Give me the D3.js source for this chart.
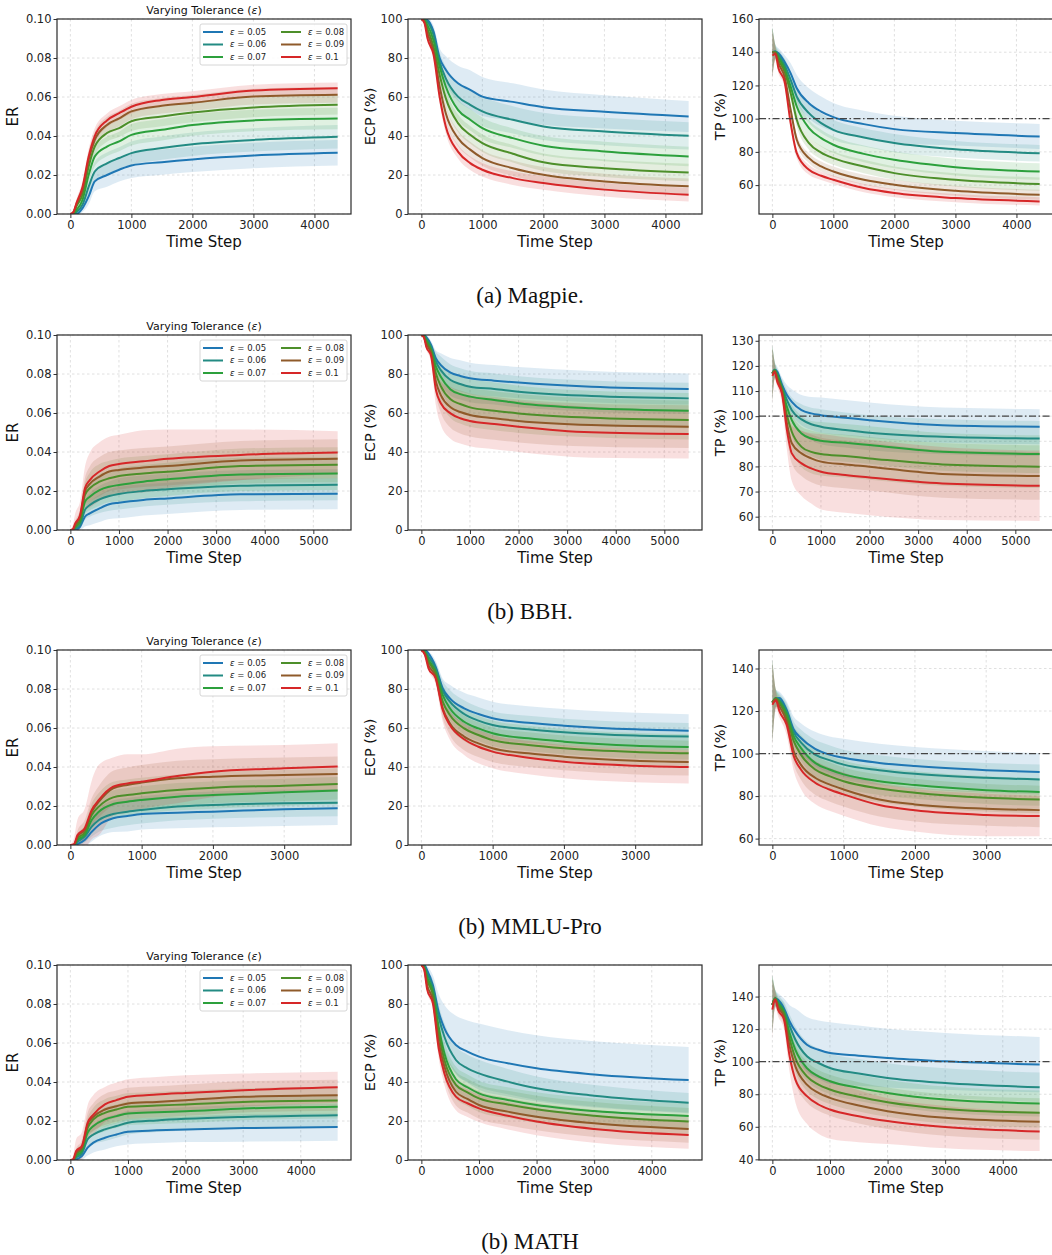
<!DOCTYPE html>
<html>
<head>
<meta charset="utf-8">
<script src="https://cdn.jsdelivr.net/npm/d3@7"></script>
<style>
  body { margin: 0; background: #fff; }
  svg { display: block; font-family: "DejaVu Sans", sans-serif; }
</style>
</head>
<body>
<svg id="chart" width="1052" height="1255"></svg>
<script>
// tolerance levels and their colours
const epsilons = ["0.05", "0.06", "0.07", "0.08", "0.09", "0.1"];
const colors = ["#1f77b4", "#238b83", "#2ca03c", "#4d8f2a", "#8f5a2a", "#d62728"];
const captions = ["(a) Magpie.", "(b) BBH.", "(b) MMLU-Pro", "(b) MATH"];

// time steps at which values were read (per dataset)
const stepsMagpie = [0, 50, 100, 200, 300, 400, 600, 800, 1000, 1500, 2000, 3000, 4380];
const stepsBBH    = [0, 50, 100, 200, 300, 400, 600, 800, 1000, 1500, 2000, 3500, 5500];
const stepsMMLU   = [0, 50, 100, 200, 300, 400, 600, 800, 1000, 1500, 2000, 3000, 3750];
const stepsMATH   = [0, 50, 100, 200, 300, 400, 600, 800, 1000, 1500, 2000, 3000, 4640];

// ---- Magpie ----
const magpieER = [
  [0, 0, 0, .003, .009, .0167, .020, .0227, .0249, .0266, .028, .030, .0314],
  [0, 0, .001, .0048, .014, .0218, .026, .0287, .0312, .0338, .0358, .038, .0396],
  [0, 0, .002, .0073, .020, .0295, .0346, .0372, .0406, .0432, .0456, .048, .049],
  [0, 0, .004, .010, .0244, .0346, .0415, .044, .0476, .050, .052, .0546, .056],
  [0, .001, .005, .0125, .028, .038, .0457, .049, .0526, .0555, .057, .0602, .0611],
  [0, .001, .0056, .014, .0295, .040, .048, .0517, .055, .0585, .060, .0633, .0645]
];
const magpieERsd = [
  [0, 0, .001, .002, .004, .005, .006, .006, .0065, .0065, .0065, .0065, .0065],
  [0, 0, .001, .002, .004, .005, .0055, .0055, .006, .006, .006, .006, .006],
  [0, 0, .001, .002, .004, .005, .005, .005, .0055, .0055, .0055, .0055, .0055],
  [0, 0, .001, .003, .004, .0045, .0045, .0045, .005, .005, .005, .005, .005],
  [0, .001, .002, .003, .004, .004, .004, .004, .004, .004, .004, .004, .004],
  [0, .001, .002, .003, .004, .004, .0035, .0035, .0035, .003, .003, .003, .003]
];
const magpieECP = [
  [100, 100, 99.5, 93.5, 80, 74, 67, 63.7, 60.2, 57.5, 54.8, 52.4, 50],
  [100, 100, 98.6, 91.8, 78, 69.6, 60.2, 56, 52.6, 48.3, 44.9, 42.3, 40.1],
  [100, 99.5, 97, 89, 75.6, 65.4, 53.4, 48.3, 44, 38.9, 35, 32.1, 29.5],
  [100, 99, 95, 85.8, 71.3, 59.4, 46.6, 40.6, 36.3, 30.9, 26.5, 23.5, 21.3],
  [100, 98.5, 92.7, 83.3, 65.4, 51.7, 38.9, 33, 28.7, 23.5, 20.1, 16.7, 14.2],
  [100, 98, 90.1, 81.6, 60, 44.9, 32, 26.1, 22.7, 18.4, 15.9, 12.5, 9.9]
];
const magpieECPsd = [
  [0, 0, 1, 3, 5, 7, 9, 10, 10, 9.5, 9, 8.5, 8],
  [0, 0, 1, 3, 5, 6, 7, 7.5, 7.5, 7, 7, 7, 7],
  [0, 0, 1, 3, 4, 5, 5.5, 5.5, 5.5, 5, 5, 5, 5],
  [0, 0, 1, 2, 4, 4.5, 4.5, 4.5, 4.5, 4.5, 4.5, 4.5, 4.5],
  [0, 0, 1, 2, 4, 4, 4, 4, 4, 4, 4, 4, 4],
  [0, 0, 1, 2, 3.5, 3.5, 3.5, 3.5, 3.5, 3.5, 3.5, 3.5, 3.5]
];
const magpieTP = [
  [140, 140.5, 139.4, 134.3, 127.3, 118.3, 109.3, 104.3, 100.9, 96.7, 93.7, 91.3, 89.3],
  [140, 140.5, 138.4, 132.3, 123.3, 113.3, 103.3, 97.3, 93.3, 88.7, 85.3, 81.6, 79.2],
  [140, 140, 137, 130.3, 119.3, 107.3, 94.3, 88.3, 84.3, 78.8, 75.2, 70.8, 68.2],
  [140, 140, 135.4, 128.3, 115.3, 99.3, 85.3, 79.6, 76.2, 71.2, 67.2, 63.2, 60.6],
  [140, 139.5, 133.4, 125.3, 105.3, 87.3, 76.2, 71.2, 68.2, 63.2, 60.2, 56.6, 54.2],
  [138, 139, 130.3, 122.3, 97.3, 79.2, 69.2, 65.6, 63.2, 58.2, 55.2, 52.2, 50.2]
];
const magpieTPsd = [
  [15, 4, 3, 4, 6, 8, 9, 9, 8.5, 8, 8, 7.5, 7.5],
  [15, 4, 3, 4, 5, 6, 6, 6, 6, 5.5, 5.5, 5, 5],
  [15, 4, 3, 3, 4, 5, 5, 5, 5, 5, 5, 5, 5],
  [15, 4, 3, 3, 4, 4, 4, 4, 4, 4, 4, 4, 4],
  [15, 4, 3, 3, 3, 3, 3, 3, 3, 3, 3, 3, 3],
  [15, 4, 3, 3, 3, 3, 3, 2.5, 2.5, 2.5, 2.5, 2.5, 2.5]
];

// ---- BBH ----
const bbhER = [
  [0, 0, 0, .0017, .0068, .0085, .0111, .0132, .014, .0154, .0162, .0183, .0186],
  [0, 0, .0007, .0026, .0103, .0128, .0157, .0174, .0185, .020, .0209, .0227, .0232],
  [0, 0, .0014, .0043, .0145, .0171, .0205, .0222, .0231, .0248, .026, .0285, .029],
  [0, 0, .0017, .0051, .018, .0214, .0248, .0265, .0277, .029, .0299, .0328, .0335],
  [0, 0, .0026, .0068, .0197, .0236, .0274, .030, .0308, .032, .0328, .0356, .0366],
  [0, .0005, .0034, .0077, .0214, .0256, .030, .0328, .0338, .0352, .0365, .0385, .0397]
];
const bbhERsd = [
  [0, 0, .001, .002, .005, .006, .007, .0075, .008, .008, .008, .008, .008],
  [0, 0, .001, .002, .005, .006, .007, .0075, .008, .008, .008, .008, .008],
  [0, 0, .001, .003, .006, .007, .008, .008, .0085, .0085, .0085, .0085, .0085],
  [0, 0, .002, .003, .006, .008, .009, .009, .009, .009, .009, .009, .009],
  [0, 0, .002, .004, .007, .009, .010, .010, .010, .010, .010, .010, .010],
  [0, .002, .005, .007, .011, .014, .015, .015, .015, .016, .015, .013, .011]
];
const bbhECP = [
  [100, 100, 99, 94.9, 88, 84.6, 80.7, 79, 77.8, 76.6, 75.6, 73.5, 72.3],
  [100, 100, 98.3, 94, 86.3, 82, 76.9, 74.9, 73.5, 72.3, 70.9, 68.7, 67.5],
  [100, 99.5, 97.4, 92.6, 83.8, 78.6, 72.1, 69.7, 68.4, 66.7, 65, 62.4, 61.2],
  [100, 99.5, 96.6, 91.5, 80.3, 73.8, 67, 64.6, 62.9, 61.2, 59.8, 57.6, 56.4],
  [100, 99, 95.4, 90.6, 76.1, 69.2, 62.9, 60.5, 59, 57.3, 55.9, 53.8, 53],
  [100, 99, 94, 89.2, 71.8, 65, 59.8, 57.3, 55.9, 54.4, 53, 50.1, 49.2]
];
const bbhECPsd = [
  [0, 0, 1, 2, 4, 6, 7.5, 8, 8, 8, 8, 8, 8],
  [0, 0, 1, 2, 5, 7, 8, 8, 8, 8, 8, 8, 8],
  [0, 0, 1, 2, 5, 7, 8.5, 9, 9, 9, 9, 9, 9],
  [0, 0, 1, 3, 6, 8, 9.5, 10, 10, 10, 10, 10, 10],
  [0, 0, 1, 3, 7, 9, 10.5, 11, 11, 11, 11, 11, 11],
  [0, 0, 1, 3, 8, 11, 13, 13, 13, 13, 13, 13, 12.5]
];
const bbhTP = [
  [117, 118.5, 117.7, 112.4, 108.4, 105.7, 102.4, 101.1, 100.4, 99.4, 98.4, 96.4, 95.8],
  [117, 118.5, 117, 111.7, 106.4, 102.4, 98.7, 96.8, 95.8, 94.5, 93.4, 91.8, 91.1],
  [117, 118.3, 116.4, 111, 103.7, 98.4, 93.1, 91.1, 90.2, 89.4, 88.5, 85.8, 84.9],
  [117, 118.2, 115.7, 110.4, 100.4, 93.8, 87.8, 85.8, 84.9, 84.1, 83.2, 80.8, 79.9],
  [117, 118, 115, 109.7, 97.1, 89.2, 85.2, 83.2, 81.9, 80.8, 79.9, 77, 76.2],
  [116, 117.5, 113.7, 108.8, 94.5, 85.2, 81.2, 79.2, 77.9, 76.6, 75.6, 73.2, 72.3]
];
const bbhTPsd = [
  [11, 3, 2, 3, 4, 5, 6, 6.5, 7, 7, 7, 7, 7],
  [11, 3, 2, 3, 4, 5, 6, 6.5, 7, 7, 7, 7, 7],
  [11, 3, 2, 3, 4, 6, 7, 7, 7.5, 7.5, 7.5, 7.5, 7.5],
  [11, 3, 2, 3, 5, 7, 8, 8.5, 8.5, 8.5, 8.5, 8.5, 8.5],
  [11, 3, 2, 3, 6, 8, 9, 9.5, 9.5, 9.5, 9.5, 9.5, 9.5],
  [11, 3, 2, 4, 8, 11, 13, 14, 15, 15, 15, 14.5, 14]
];

// ---- MMLU-Pro ----
const mmluER = [
  [0, 0, .0005, .0026, .0068, .0103, .0137, .0149, .0159, .0166, .0171, .0183, .0188],
  [0, 0, .0017, .0043, .0094, .0128, .0159, .0171, .018, .0197, .0205, .0214, .0217],
  [0, 0, .0026, .0051, .0128, .0171, .021, .0222, .0231, .0248, .0256, .027, .0279],
  [0, 0, .0034, .0063, .0154, .0197, .0244, .0256, .0265, .0282, .0294, .0304, .0313],
  [0, 0, .0043, .0077, .0171, .0222, .0291, .0308, .032, .0342, .035, .0359, .0364],
  [0, .0005, .0051, .0085, .018, .0231, .0299, .0316, .0325, .0354, .0376, .0393, .0402]
];
const mmluERsd = [
  [0, 0, .001, .003, .005, .006, .007, .008, .008, .008, .008, .0085, .0085],
  [0, 0, .002, .003, .005, .006, .007, .007, .007, .007, .007, .007, .007],
  [0, 0, .002, .003, .005, .006, .007, .007, .007, .007, .007, .007, .007],
  [0, 0, .002, .004, .006, .007, .008, .008, .008, .008, .008, .008, .008],
  [0, 0, .003, .005, .007, .008, .009, .009, .009, .009, .009, .009, .009],
  [0, .003, .008, .010, .015, .018, .015, .015, .014, .014, .013, .012, .012]
];
const mmluECP = [
  [100, 100, 98.3, 91.5, 80.3, 75.2, 70.1, 67.2, 65, 62.7, 61.2, 59.3, 58.6],
  [100, 99.5, 96.6, 90.6, 79.1, 73.5, 67.2, 63.8, 61.5, 59.3, 57.8, 56.1, 55.6],
  [100, 99, 95.2, 88.9, 76.9, 70.1, 63.2, 59.8, 57.3, 54.7, 53, 50.9, 50.3],
  [100, 98.5, 94, 88, 73.5, 66.7, 59.8, 56.4, 53.8, 51.3, 49.6, 47.7, 47],
  [100, 98, 92.3, 86.3, 70.1, 62.4, 55.6, 52.1, 49.6, 47, 45.3, 43.2, 42.6],
  [100, 97.5, 90.6, 85.5, 69.2, 61.5, 54.2, 50.4, 47.9, 44.8, 42.7, 40.7, 40]
];
const mmluECPsd = [
  [0, 0, 1, 3, 5, 7, 8, 8.5, 8.5, 8.5, 8.5, 8.5, 8.5],
  [0, 0, 1, 3, 5, 6, 7, 7, 7, 7, 7, 7, 7],
  [0, 0, 1, 3, 5, 6, 6.5, 6.5, 6.5, 6.5, 6.5, 6.5, 6.5],
  [0, 0, 1, 3, 5, 6, 6.5, 6.5, 6.5, 6.5, 6.5, 6.5, 6.5],
  [0, 0, 1, 3, 5, 6, 7, 7, 7, 7, 7, 7, 7],
  [0, 0, 1, 3, 6, 7.5, 8, 8.5, 8.5, 8.5, 8.5, 8.5, 8.5]
];
const mmluTP = [
  [124, 126, 126.1, 120.6, 111.3, 107.3, 102.2, 99.5, 98, 95.6, 94.1, 92.2, 91.3],
  [124, 126, 125.3, 119.8, 110, 105.3, 99.5, 96.9, 94.8, 92.2, 90.5, 88.6, 87.8],
  [124, 126, 124.5, 118.8, 108.1, 102.7, 95.6, 92.5, 90.2, 87, 85.2, 82.8, 81.9],
  [124, 126, 123.8, 117.2, 105.8, 99.5, 92.5, 89.4, 87, 83.6, 81.6, 79.2, 78.4],
  [124, 125.5, 122.2, 115.2, 101.1, 94.8, 88.6, 85.5, 83.1, 78.4, 76.1, 74.1, 73.4],
  [123, 125, 119.8, 113.6, 98.8, 92.5, 86.3, 83.1, 80.8, 75.8, 73.3, 71.1, 70.6]
];
const mmluTPsd = [
  [20, 4, 3, 4, 6, 7, 8, 8.5, 9, 9, 9, 9, 9],
  [20, 4, 3, 4, 5, 6, 7, 7, 7, 7, 7, 7, 7],
  [20, 4, 3, 4, 5, 6, 6.5, 6.5, 6.5, 6.5, 6.5, 6.5, 6.5],
  [20, 4, 3, 4, 5, 6, 6.5, 6.5, 6.5, 6.5, 6.5, 6.5, 6.5],
  [20, 4, 3, 4, 6, 7, 8, 8, 8, 8, 8, 8, 8],
  [20, 4, 3, 5, 7, 9, 10, 10, 10, 10, 10, 10, 9.5]
];

// ---- MATH ----
const mathER = [
  [0, 0, .0003, .002, .0063, .0089, .0114, .0131, .0145, .0152, .0157, .0164, .0169],
  [0, 0, .0012, .0034, .0106, .0131, .0157, .0174, .0191, .0203, .0211, .0221, .023],
  [0, 0, .002, .0046, .014, .0174, .0208, .0225, .0239, .0245, .025, .0264, .0273],
  [0, 0, .0029, .0058, .0165, .0208, .0242, .0259, .0273, .0279, .0285, .0298, .0305],
  [0, 0, .0037, .0063, .0182, .0221, .0259, .0276, .029, .0298, .0307, .0324, .0332],
  [0, .0005, .0046, .0072, .0191, .0233, .0285, .0307, .0324, .0336, .0344, .0358, .0373]
];
const mathERsd = [
  [0, 0, .001, .002, .004, .005, .006, .006, .0065, .0065, .0065, .007, .007],
  [0, 0, .001, .002, .004, .005, .006, .006, .006, .006, .006, .006, .006],
  [0, 0, .001, .002, .004, .005, .006, .006, .006, .006, .006, .006, .006],
  [0, 0, .002, .003, .005, .006, .007, .007, .007, .007, .007, .007, .007],
  [0, 0, .002, .004, .006, .007, .008, .008, .008, .008, .008, .008, .008],
  [0, .002, .006, .007, .009, .010, .009, .009, .009, .009, .009, .0085, .008]
];
const mathECP = [
  [100, 100, 97.4, 89.7, 76, 67.5, 59, 55.6, 53, 49.6, 47, 43.9, 41],
  [100, 99.5, 95.7, 88.5, 73.5, 63.2, 51.3, 47, 44.4, 40.2, 36.8, 33, 29.4],
  [100, 99, 94, 86.3, 68.4, 54.7, 41.4, 37.3, 34.2, 30.8, 28.2, 25.1, 22.6],
  [100, 98.5, 92.3, 84.6, 65, 51.3, 38.5, 34.7, 31.6, 28.5, 26, 22.7, 19.7],
  [100, 98, 89.7, 82.1, 60.7, 47.9, 35, 31.3, 28.2, 24.8, 22.2, 18.8, 15.9],
  [100, 97.5, 87.5, 80.3, 57.3, 44.4, 32.5, 29.1, 26.5, 22.7, 19.7, 15.9, 12.8]
];
const mathECPsd = [
  [0, 0, 2, 5, 9, 12, 15, 16, 17, 17, 17, 17, 17],
  [0, 0, 1, 4, 6, 7, 7, 7, 7, 6.5, 6, 5.5, 5],
  [0, 0, 1, 3, 5, 6, 6.5, 6.5, 6.5, 6.5, 6.5, 6.5, 6.5],
  [0, 0, 1, 3, 5, 6, 7, 7, 7, 7, 7, 7, 7],
  [0, 0, 1, 3, 5, 6, 7, 7, 7, 7, 7, 7, 7],
  [0, 0, 1, 3, 5, 6, 7, 7, 7, 7, 7, 7, 7]
];
const mathTP = [
  [135, 139, 138, 132.9, 124.7, 118.6, 110.4, 107.3, 105.3, 103.7, 102.2, 100.2, 98.2],
  [135, 139, 136.9, 131.8, 122, 113.5, 103.3, 99.2, 96.1, 92.7, 90, 86.9, 84.3],
  [135, 139, 135.9, 130.8, 117.6, 107.3, 96.1, 91, 88, 83.9, 80.8, 76.7, 74.3],
  [135, 139, 134.9, 129.4, 113.9, 102.2, 91, 85.9, 82.9, 78.4, 75.1, 71, 68.6],
  [135, 138.5, 133.5, 127.8, 109.4, 97.1, 85.9, 80.8, 77.8, 73.1, 69.6, 65.5, 63.1],
  [132, 138, 131.8, 126.1, 103.3, 89, 78.8, 73.7, 70.6, 66.5, 63.5, 59.8, 57.1]
];
const mathTPsd = [
  [18, 5, 4, 6, 10, 14, 17, 18, 19, 18.5, 18, 17.5, 17],
  [18, 5, 4, 5, 7, 8, 9, 9, 9, 9, 9, 9, 9],
  [18, 5, 4, 5, 7, 8, 8, 8, 8, 8, 8, 8, 8],
  [18, 5, 4, 5, 7, 8, 9, 9, 9, 9, 9, 9, 9],
  [18, 5, 4, 5, 8, 10, 11, 11, 11, 11, 11, 11, 11],
  [18, 5, 4, 6, 10, 14, 17, 18, 18, 16, 14, 13, 12]
];

// axis ranges / ticks for the TP panels
const tpDomains = [[42.6, 160], [54.7, 132.3], [57, 148.7], [39.6, 159.4]];
const tpTicks = [[60, 80, 100, 120, 140, 160], [60, 70, 80, 90, 100, 110, 120, 130], [60, 80, 100, 120, 140], [40, 60, 80, 100, 120, 140]];

const rows = [
  {steps: stepsMagpie, er: [magpieER, magpieERsd], ecp: [magpieECP, magpieECPsd], tp: [magpieTP, magpieTPsd]},
  {steps: stepsBBH, er: [bbhER, bbhERsd], ecp: [bbhECP, bbhECPsd], tp: [bbhTP, bbhTPsd]},
  {steps: stepsMMLU, er: [mmluER, mmluERsd], ecp: [mmluECP, mmluECPsd], tp: [mmluTP, mmluTPsd]},
  {steps: stepsMATH, er: [mathER, mathERsd], ecp: [mathECP, mathECPsd], tp: [mathTP, mathTPsd]}
];

const svg = d3.select("#chart");
const colX = [57, 408, 759];
const rowY = [19, 335, 650, 965];
const W = 294, H = 195;

function panel(r, c, spec) {
  const g = svg.append("g").attr("transform", `translate(${colX[c]},${rowY[r]})`);
  const steps = spec.steps;
  const N = steps[steps.length - 1];
  const x = d3.scaleLinear().domain([-0.05 * N, 1.05 * N]).range([0, W]);
  const y = d3.scaleLinear().domain(spec.domain).range([H, 0]);
  const xt = d3.range(0, 1.05 * N, 1000);

  // grid
  const grid = g.append("g").attr("stroke", "#d8d8d8").attr("stroke-width", 0.8).attr("stroke-dasharray", "2.5,2.5");
  grid.selectAll(".gx").data(xt).join("line").attr("x1", d => x(d)).attr("x2", d => x(d)).attr("y1", 0).attr("y2", H);
  grid.selectAll(".gy").data(spec.ticks).join("line").attr("y1", d => y(d)).attr("y2", d => y(d)).attr("x1", 0).attr("x2", W);

  const clipId = `clip-${r}-${c}`;
  g.append("clipPath").attr("id", clipId).append("rect").attr("width", W).attr("height", H);
  const plot = g.append("g").attr("clip-path", `url(#${clipId})`);

  const [means, sds] = spec.data;
  const area = d3.area().curve(d3.curveMonotoneX)
    .x(d => x(d.t)).y0(d => y(d.m - d.s)).y1(d => y(d.m + d.s));
  const line = d3.line().curve(d3.curveMonotoneX).x(d => x(d.t)).y(d => y(d.m));
  const series = means.map((m, i) => m.map((v, k) => ({t: steps[k], m: v, s: sds[i][k]})));

  plot.selectAll(".band").data(series).join("path")
    .attr("d", area).attr("fill", (d, i) => colors[i]).attr("fill-opacity", 0.15);
  plot.selectAll(".ln").data(series).join("path")
    .attr("d", line).attr("fill", "none").attr("stroke", (d, i) => colors[i]).attr("stroke-width", 2);

  if (spec.refLine) {
    g.append("line").attr("x1", 0).attr("x2", W).attr("y1", y(100)).attr("y2", y(100))
      .attr("stroke", "#444").attr("stroke-width", 1.2).attr("stroke-dasharray", "7,2.5,1.5,2.5");
  }

  // axes
  const ax = g.append("g").attr("transform", `translate(0,${H})`)
    .call(d3.axisBottom(x).tickValues(xt).tickSize(4).tickPadding(3).tickFormat(d3.format("d")));
  const ay = g.append("g")
    .call(d3.axisLeft(y).tickValues(spec.ticks).tickSize(3.5).tickPadding(2).tickFormat(spec.fmt));
  [ax, ay].forEach(a => {
    a.select(".domain").remove();
    a.selectAll("line").attr("stroke", "#333");
    a.selectAll("text").attr("font-size", 11.5).attr("fill", "#222").attr("font-family", "DejaVu Sans");
  });
  g.append("rect").attr("width", W).attr("height", H).attr("fill", "none")
    .attr("stroke", "#2a2a2a").attr("stroke-width", 1.2);

  g.append("text").attr("x", W / 2).attr("y", H + 33).attr("text-anchor", "middle")
    .attr("font-size", 15).attr("fill", "#111").text("Time Step");
  g.append("text").attr("transform", `translate(${spec.labelX},${H / 2}) rotate(-90)`)
    .attr("text-anchor", "middle").attr("dy", "0.35em")
    .attr("font-size", spec.labelSize).attr("fill", "#111").text(spec.label);

  if (spec.legend) {
    g.append("text").attr("x", W / 2).attr("y", -5).attr("text-anchor", "middle")
      .attr("font-size", 11).attr("fill", "#111")
      .call(t => { t.append("tspan").text("Varying Tolerance ("); t.append("tspan").attr("font-style", "italic").text("ε"); t.append("tspan").text(")"); });
    const lg = g.append("g").attr("transform", "translate(143,5)");
    lg.append("rect").attr("width", 147).attr("height", 41).attr("rx", 2)
      .attr("fill", "#fff").attr("fill-opacity", 0.85).attr("stroke", "#ccc").attr("stroke-width", 0.8);
    epsilons.forEach((e, i) => {
      const cx = i < 3 ? 3 : 81, cy = 8 + (i % 3) * 12.5;
      lg.append("line").attr("x1", cx).attr("x2", cx + 20).attr("y1", cy).attr("y2", cy)
        .attr("stroke", colors[i]).attr("stroke-width", 2);
      const t = lg.append("text").attr("x", cx + 27).attr("y", cy).attr("dy", "0.35em")
        .attr("font-size", 8.5).attr("fill", "#222");
      t.append("tspan").attr("font-style", "italic").text("ε");
      t.append("tspan").text(" = " + e);
    });
  }
}

rows.forEach((row, r) => {
  panel(r, 0, {steps: row.steps, data: row.er, domain: [0, 0.1], ticks: [0, .02, .04, .06, .08, .1],
    fmt: d3.format(".2f"), label: "ER", labelX: -44, labelSize: 15, legend: true});
  panel(r, 1, {steps: row.steps, data: row.ecp, domain: [0, 100], ticks: [0, 20, 40, 60, 80, 100],
    fmt: d3.format("d"), label: "ECP (%)", labelX: -38, labelSize: 14.5});
  panel(r, 2, {steps: row.steps, data: row.tp, domain: tpDomains[r], ticks: tpTicks[r],
    fmt: d3.format("d"), label: "TP (%)", labelX: -39, labelSize: 14.5, refLine: true});
  svg.append("text").attr("x", 530).attr("y", rowY[r] + 284)
    .attr("text-anchor", "middle").attr("font-family", "Liberation Serif, serif")
    .attr("font-size", 23).attr("fill", "#111").text(captions[r]);
});
</script>
</body>
</html>
